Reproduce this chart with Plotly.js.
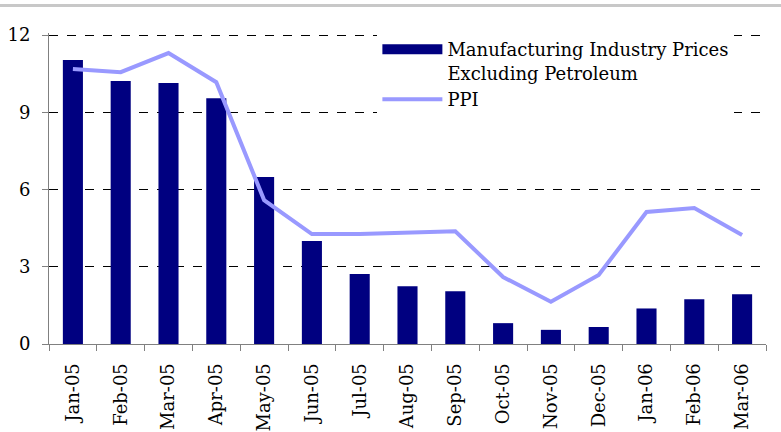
<!DOCTYPE html>
<html>
<head>
<meta charset="utf-8">
<script src="https://cdn.plot.ly/plotly-3.0.1.min.js"></script>
<style>
  html, body { margin: 0; padding: 0; background: #fff; }
  #wrap { position: relative; width: 781px; height: 432px; }
  #topline { position: absolute; left: 0; top: 4px; width: 781px; height: 0; border-top: 3px solid #c8c8c8; z-index: 5; }
  #chart { width: 781px; height: 432px; }
</style>
</head>
<body>
<div id="wrap">
  <div id="topline"></div>
  <div id="chart"></div>
</div>
<script>
const months = ["Jan-05","Feb-05","Mar-05","Apr-05","May-05","Jun-05","Jul-05","Aug-05","Sep-05","Oct-05","Nov-05","Dec-05","Jan-06","Feb-06","Mar-06"];
const manufExPetroleum = [11.03, 10.22, 10.14, 9.55, 6.49, 4.0, 2.72, 2.24, 2.05, 0.81, 0.55, 0.66, 1.38, 1.74, 1.93];
const ppi = [10.68, 10.56, 11.3, 10.17, 5.59, 4.27, 4.27, 4.33, 4.38, 2.6, 1.64, 2.68, 5.13, 5.28, 4.23];
const yTicks = [0, 3, 6, 9, 12];
const barName = "Manufacturing Industry Prices<br>Excluding Petroleum";
const lineName = "PPI";

const navy = "#000080";
const lav = "#9999ff";
const serif = "DejaVu Serif";

const traces = [
  { type: "bar", x: months, y: manufExPetroleum, marker: { color: navy }, showlegend: false, hoverinfo: "y" },
  { type: "scatter", mode: "lines", x: [null], y: [null], name: barName, line: { color: navy, width: 14 }, showlegend: true, hoverinfo: "skip" },
  { type: "scatter", mode: "lines", x: months, y: ppi, name: lineName, line: { color: lav, width: 4 } }
];

const layout = {
  width: 781, height: 432,
  margin: { l: 49, r: 15, t: 33, b: 88, autoexpand: false },
  paper_bgcolor: "#fff", plot_bgcolor: "#fff",
  font: { family: serif, size: 18, color: "#000" },
  bargap: 0.58,
  showlegend: true,
  legend: {
    x: 0.458, y: 1.006, xanchor: "left", yanchor: "top",
    bgcolor: "#fff", borderwidth: 0, valign: "top",
    font: { family: serif, size: 18, color: "#000" },
    itemwidth: 60, tracegroupgap: 0
  },
  xaxis: {
    type: "category", tickangle: -90,
    showline: true, linecolor: "#808080", linewidth: 1,
    ticks: "outside", tickson: "boundaries", ticklen: 6, tickcolor: "#808080",
    showgrid: false, zeroline: false, ticklabelstandoff: 11,
    tickfont: { family: serif, size: 18, color: "#000" },
    fixedrange: true
  },
  yaxis: {
    range: [0, 12.08], tickvals: yTicks, ticktext: yTicks.map(String),
    showline: true, linecolor: "#808080", linewidth: 1,
    ticks: "outside", ticklen: 6, tickcolor: "#808080",
    showgrid: true, gridcolor: "#000", gridwidth: 1, griddash: "dash",
    zeroline: false, ticklabelstandoff: 8,
    tickfont: { family: serif, size: 18, color: "#000" },
    fixedrange: true
  }
};

Plotly.newPlot("chart", traces, layout, { displayModeBar: false, staticPlot: true });
</script>
</body>
</html>
